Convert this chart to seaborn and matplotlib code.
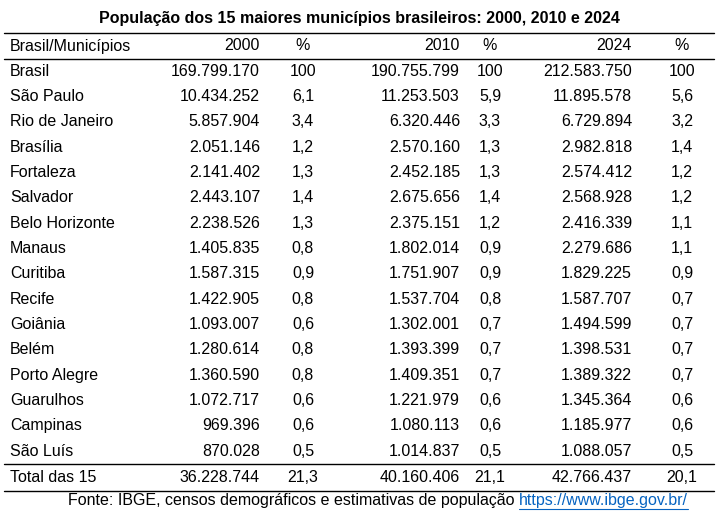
import matplotlib
matplotlib.use("Agg")
import matplotlib.pyplot as plt
import seaborn as sns

sns.set_theme(style="white")
plt.rcParams['font.family'] = ['Liberation Sans', 'DejaVu Sans']
plt.rcParams['text.color'] = 'black'

title = "População dos 15 maiores municípios brasileiros: 2000, 2010 e 2024"
headers = ["Brasil/Municípios", "2000", "%", "2010", "%", "2024", "%"]
names = ["Brasil", "São Paulo", "Rio de Janeiro", "Brasília", "Fortaleza", "Salvador",
         "Belo Horizonte", "Manaus", "Curitiba", "Recife", "Goiânia", "Belém",
         "Porto Alegre", "Guarulhos", "Campinas", "São Luís", "Total das 15"]
pop2000 = ["169.799.170", "10.434.252", "5.857.904", "2.051.146", "2.141.402", "2.443.107",
           "2.238.526", "1.405.835", "1.587.315", "1.422.905", "1.093.007", "1.280.614",
           "1.360.590", "1.072.717", "969.396", "870.028", "36.228.744"]
pct2000 = ["100", "6,1", "3,4", "1,2", "1,3", "1,4", "1,3", "0,8", "0,9", "0,8", "0,6",
           "0,8", "0,8", "0,6", "0,6", "0,5", "21,3"]
pop2010 = ["190.755.799", "11.253.503", "6.320.446", "2.570.160", "2.452.185", "2.675.656",
           "2.375.151", "1.802.014", "1.751.907", "1.537.704", "1.302.001", "1.393.399",
           "1.409.351", "1.221.979", "1.080.113", "1.014.837", "40.160.406"]
pct2010 = ["100", "5,9", "3,3", "1,3", "1,3", "1,4", "1,2", "0,9", "0,9", "0,8", "0,7",
           "0,7", "0,7", "0,6", "0,6", "0,5", "21,1"]
pop2024 = ["212.583.750", "11.895.578", "6.729.894", "2.982.818", "2.574.412", "2.568.928",
           "2.416.339", "2.279.686", "1.829.225", "1.587.707", "1.494.599", "1.398.531",
           "1.389.322", "1.345.364", "1.185.977", "1.088.057", "42.766.437"]
pct2024 = ["100", "5,6", "3,2", "1,4", "1,2", "1,2", "1,1", "1,1", "0,9", "0,7", "0,7",
           "0,7", "0,7", "0,6", "0,6", "0,5", "20,1"]
source = "Fonte: IBGE, censos demográficos e estimativas de população "
url = "https://www.ibge.gov.br/"

fig = plt.figure(figsize=(7.18, 5.16), dpi=100)
ax = fig.add_axes([0, 0, 1, 1])
ax.set_xlim(0, 718); ax.set_ylim(516, 0); ax.axis("off")

fs = 11.5
ax.text(359, 18, title, ha="center", va="center", fontsize=fs, fontweight="bold", color="black")
cols = [(10, "left"), (260, "right"), (303, "center"), (460, "right"),
        (490, "center"), (632, "right"), (682, "center")]
for (x, ha), h in zip(cols, headers):
    ax.text(x, 46, h, ha=ha, va="center", fontsize=fs, color="black")
rows_y = [71 + 25.35 * i for i in range(16)] + [478]
data = list(zip(names, pop2000, pct2000, pop2010, pct2010, pop2024, pct2024))
for y, row in zip(rows_y, data):
    for (x, ha), v in zip(cols, row):
        ax.text(x, y, v, ha=ha, va="center", fontsize=fs, color="black")
for y in [33, 59, 464, 491]:
    ax.plot([4, 714], [y, y], color="black", lw=1)
t2 = ax.text(688, 501, url, ha="right", va="center", fontsize=fs, color="#0563C1")
fig.canvas.draw()
b2 = t2.get_window_extent()
ax.text(b2.x0, 501, source, ha="right", va="center", fontsize=fs, color="black")
ax.plot([b2.x0, b2.x1], [509, 509], color="#0563C1", lw=0.8)
fig.savefig("out.png", dpi=100)
